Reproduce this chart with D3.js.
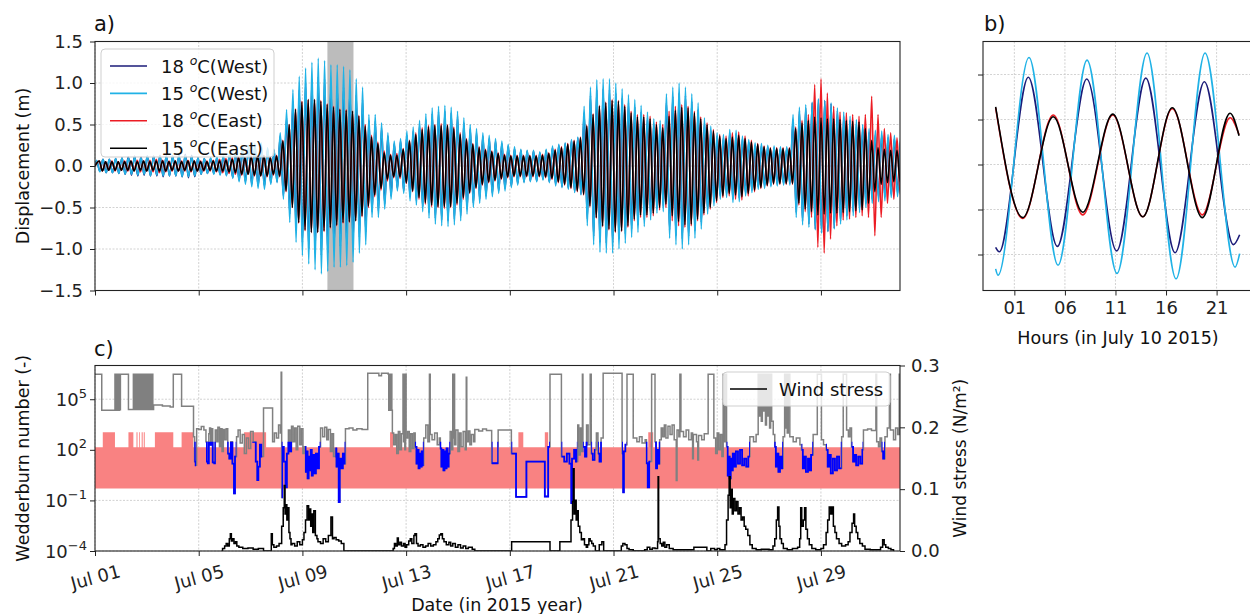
<!DOCTYPE html>
<html>
<head>
<meta charset="utf-8">
<script src="https://cdn.jsdelivr.net/npm/d3@7"></script>
<style>
  body { margin: 0; background: #fff; }
  svg { font-family: "DejaVu Sans", sans-serif; }
  .grid { stroke: #c6c6c6; stroke-width: 0.8; stroke-dasharray: 2 1.5; }
  .axis line { stroke: #222; }
  .axis text { fill: #222; font-size: 18px; font-family: "DejaVu Sans", sans-serif; }
</style>
</head>
<body>
<svg id="fig" width="1250" height="614"></svg>
<script>
// ---------------- data ----------------
// (a) isotherm displacement: amplitude of each internal-seiche cycle (m)
const cyclePeriodDays = 0.2442;     // ~5.86 h
const westPeakPhase = 0.064;        // first crest, days after Jul 01 00:00
const eastPeakPhase = 0.165;
const west18Amp = [0.06,0.08,0.08,0.09, 0.10,0.11,0.12,0.11, 0.12,0.12,0.13,0.12, 0.12,0.13,0.14,0.13,
  0.10,0.09,0.09,0.10, 0.11,0.14,0.17,0.19, 0.22,0.24,0.24,0.20, 0.19,0.36,0.58,0.78,
  0.92,1.00,1.05,1.08, 1.05,1.00,0.97,0.95, 0.93,0.86,0.80,0.55, 0.54,0.46,0.36,0.27,
  0.30,0.37,0.42,0.49, 0.56,0.63,0.65,0.66, 0.64,0.60,0.52,0.45, 0.40,0.36,0.33,0.30,
  0.27,0.24,0.21,0.19, 0.18,0.18,0.16,0.19, 0.22,0.25,0.27,0.31, 0.34,0.64,0.85,0.92,
  0.93,0.92,0.88,0.82, 0.76,0.71,0.65,0.58, 0.51,0.49,0.77,0.84, 0.88,0.85,0.78,0.68,
  0.52,0.43,0.36,0.34, 0.40,0.39,0.33,0.29, 0.25,0.24,0.23,0.22, 0.21,0.21,0.56,0.66,
  0.70,0.76,0.80,0.79, 0.75,0.67,0.60,0.55, 0.50,0.45,0.40,0.38, 0.37,0.34,0.33,0.32];
const west15Amp = [0.07,0.08,0.08,0.09, 0.10,0.10,0.11,0.10, 0.12,0.11,0.12,0.12, 0.12,0.13,0.13,0.12,
  0.10,0.09,0.10,0.11, 0.12,0.15,0.19,0.22, 0.25,0.27,0.28,0.22, 0.20,0.40,0.68,0.92,
  1.08,1.18,1.25,1.30, 1.27,1.22,1.22,1.20, 1.16,1.05,0.95,0.62, 0.62,0.52,0.40,0.30,
  0.33,0.42,0.47,0.55, 0.63,0.70,0.72,0.73, 0.71,0.66,0.58,0.50, 0.45,0.40,0.37,0.33,
  0.30,0.26,0.23,0.20, 0.19,0.19,0.17,0.20, 0.24,0.26,0.28,0.32, 0.35,0.72,0.95,1.04,
  1.05,1.05,1.00,0.93, 0.86,0.80,0.73,0.65, 0.57,0.55,0.87,0.95, 1.00,0.95,0.87,0.76,
  0.58,0.48,0.40,0.38, 0.44,0.43,0.36,0.32, 0.28,0.27,0.25,0.24, 0.23,0.23,0.62,0.71,
  0.74,0.77,0.81,0.79, 0.76,0.70,0.65,0.60, 0.56,0.50,0.45,0.43, 0.42,0.38,0.37,0.36];
const east18Amp = [0.06,0.05,0.06,0.05, 0.06,0.06,0.07,0.06, 0.07,0.08,0.07,0.06, 0.06,0.06,0.07,0.06,
  0.06,0.06,0.07,0.08, 0.09,0.10,0.11,0.10, 0.12,0.12,0.13,0.11, 0.13,0.31,0.50,0.69,
  0.78,0.80,0.80,0.79, 0.75,0.72,0.69,0.68, 0.66,0.61,0.50,0.37, 0.29,0.18,0.14,0.15,
  0.21,0.31,0.40,0.46, 0.49,0.50,0.51,0.50, 0.47,0.40,0.33,0.27, 0.23,0.20,0.18,0.16,
  0.14,0.13,0.13,0.13, 0.13,0.13,0.14,0.16, 0.20,0.23,0.27,0.31, 0.35,0.49,0.63,0.73,
  0.77,0.80,0.79,0.74, 0.66,0.62,0.62,0.60, 0.53,0.50,0.66,0.72, 0.74,0.72,0.66,0.59,
  0.52,0.44,0.38,0.36, 0.40,0.41,0.36,0.31, 0.27,0.24,0.22,0.22, 0.22,0.22,0.47,0.55,
  0.62,0.98,1.05,0.88, 0.72,0.65,0.64,0.62, 0.60,0.62,0.84,0.62, 0.45,0.40,0.34,0.30];
const east15Amp = [0.06,0.05,0.05,0.05, 0.05,0.06,0.05,0.06, 0.05,0.06,0.06,0.05, 0.06,0.05,0.06,0.06,
  0.05,0.05,0.06,0.06, 0.07,0.08,0.10,0.10, 0.11,0.12,0.12,0.10, 0.12,0.30,0.50,0.68,
  0.77,0.80,0.80,0.78, 0.74,0.71,0.68,0.67, 0.66,0.60,0.48,0.35, 0.27,0.16,0.13,0.13,
  0.20,0.30,0.38,0.44, 0.47,0.49,0.49,0.49, 0.45,0.38,0.32,0.26, 0.22,0.19,0.17,0.15,
  0.13,0.12,0.12,0.12, 0.12,0.12,0.13,0.15, 0.19,0.22,0.26,0.30, 0.34,0.48,0.62,0.72,
  0.76,0.79,0.78,0.72, 0.64,0.59,0.59,0.57, 0.50,0.46,0.60,0.67, 0.71,0.70,0.64,0.57,
  0.50,0.42,0.36,0.33, 0.35,0.37,0.33,0.29, 0.26,0.23,0.21,0.21, 0.21,0.21,0.45,0.52,
  0.55,0.59,0.58,0.57, 0.57,0.56,0.55,0.54, 0.53,0.45,0.31,0.22, 0.20,0.19,0.19,0.19];

// (b) July 10 2015: turning points [hour, displacement m]
const bWest18 = [[-0.85,-0.92],[-0.49,-0.97],[2.38,0.97],[5.25,-0.91],[8.16,0.95],[11.12,-0.96],[14.0,0.96],[16.89,-0.98],[19.79,0.92],[22.66,-0.89],[23.28,-0.78]];
const bWest15 = [[-0.85,-1.16],[-0.62,-1.23],[2.45,1.19],[5.32,-1.12],[8.19,1.16],[11.15,-1.21],[14.12,1.24],[16.99,-1.27],[19.86,1.24],[22.83,-1.14],[23.28,-0.99]];
const bEast18 = [[-0.85,0.63],[1.83,-0.60],[4.85,0.55],[7.76,-0.56],[10.73,0.55],[13.7,-0.58],[16.62,0.62],[19.59,-0.56],[22.33,0.52],[23.22,0.33]];
const bEast15 = [[-0.85,0.64],[1.83,-0.59],[4.85,0.53],[7.76,-0.53],[10.73,0.56],[13.7,-0.58],[16.62,0.63],[19.59,-0.59],[22.33,0.57],[23.22,0.32]];

// (c) Wedderburn number, [day since Jul 01, W]
const wedderburn = [[0,3e6],[0.26,2.2e4],[0.77,3e6],[0.8,2.2e4],[0.82,3e6],[0.84,2.2e4],[0.86,3e6],[0.88,2.2e4],[0.9,3e6],[0.92,2.2e4],[0.94,3e6],[0.96,2.4e4],[0.98,3e6],
  [1.29,2.5e4],[1.48,3e6],[1.51,2.5e4],[1.54,3e6],[1.57,2.5e4],[1.6,3e6],[1.63,2.5e4],[1.66,3e6],[1.69,2.5e4],[1.72,3e6],[1.75,2.5e4],[1.78,3e6],[1.81,2.5e4],[1.84,3e6],[1.87,2.5e4],[1.9,3e6],[1.93,2.5e4],[1.96,3e6],[1.99,2.5e4],[2.02,3e6],[2.05,2.5e4],[2.08,3e6],[2.11,2.5e4],[2.14,3e6],[2.17,2.5e4],[2.2,3e6],[2.23,2.5e4],
  [2.26,4.5e4],[2.6,4e4],[2.9,3.5e4],[3.02,3e6],[3.34,3.8e4],[3.8,600],[3.84,20],[3.88,12],[3.92,1.8e3],[4.0,1.6e3],[4.1,2.4e3],[4.2,1.5e3],[4.28,300],[4.31,20],[4.35,16],[4.39,900],[4.42,2e3],[4.46,200],[4.5,1.8e3],[4.54,18],[4.6,16],[4.64,1.5e3],[4.7,300],[4.74,2.2e3],[4.8,150],[4.85,1.8e3],[4.9,80],[4.95,1.6e3],
  [5.0,400],[5.06,1.8e3],[5.12,60],[5.18,30],[5.24,300],[5.3,15],[5.36,0.26],[5.4,40],[5.46,600],[5.52,1.5e3],[5.6,250],[5.68,800],[5.76,60],[5.84,500],[5.92,120],[6.0,1.2e3],[6.1,300],[6.2,20],[6.26,1.6],[6.3,10],[6.36,200],[6.42,40],[6.5,3e4],[6.85,300],[6.92,1e3],[7.0,500],[7.08,3e3],[7.15,1e3],[7.18,4e6],[7.2,0.15],[7.22,150],[7.28,20],[7.35,0.6],[7.4,60],[7.46,1.5e3],[7.52,80],[7.58,2.5e3],[7.64,300],[7.7,2e3],[7.76,100],[7.82,2.5e3],[7.9,200],[7.96,1.8e3],
  [8.02,60],[8.08,150],[8.12,5],[8.16,80],[8.2,2],[8.24,40],[8.28,6],[8.32,100],[8.36,3],[8.4,50],[8.46,4],[8.52,60],[8.58,8],[8.64,150],[8.7,2e3],[8.78,600],[8.86,2.2e3],[8.94,400],[9.0,1.6e3],[9.08,80],[9.14,900],[9.2,40],[9.27,120],[9.31,10],[9.35,60],[9.4,0.08],[9.44,30],[9.5,8],[9.56,60],[9.62,15],[9.66,1.8e3],[9.8,2e3],[9.95,1.5e3],[10.1,1.8e3],[10.3,1.6e3],[10.52,3.5e6],[10.95,2.5e6],[11.05,3.5e6],
  [11.31,3e6],[11.33,2.2e4],[11.35,3e6],[11.37,2.2e4],[11.39,3e6],[11.41,2.2e4],[11.43,3e6],[11.45,2.2e4],[11.47,1e3],[11.52,200],[11.58,800],[11.64,60],[11.7,1.2e3],[11.76,100],[11.82,900],[11.88,3e6],[11.9,300],[11.93,3e6],[11.95,100],[11.98,3e6],[12.0,500],[12.06,1.2e3],[12.12,80],[12.18,900],[12.24,120],[12.3,1e3],[12.35,150],[12.4,15],[12.44,100],[12.48,8],[12.52,60],[12.56,10],[12.6,80],[12.64,12],[12.68,500],[12.76,3e3],[12.84,300],[12.9,3e6],[12.93,800],
  [13.0,400],[13.1,1e3],[13.2,200],[13.28,500],[13.32,120],[13.36,10],[13.4,100],[13.44,6],[13.48,80],[13.52,8],[13.56,120],[13.6,10],[13.64,60],[13.7,1.2e3],[13.76,100],[13.8,3e6],[13.82,500],[13.85,3e6],[13.87,200],[13.92,1.5e3],[14.0,80],[14.06,1e3],[14.12,150],[14.2,1.2e3],[14.28,100],[14.32,2e6],[14.34,300],[14.4,1.3e3],[14.46,200],[14.52,800],[14.6,300],[14.65,1.6e3],[14.8,1.3e3],[14.95,1.7e3],[15.1,1.4e3],[15.3,16],[15.55,1.5e3],
  [16.06,60],[16.24,0.16],[16.64,20],[17.35,0.17],[17.48,150],[17.55,3e6],[17.99,40],[18.1,20],[18.2,60],[18.3,15],[18.37,0.07],[18.4,30],[18.48,100],[18.55,20],[18.62,3e3],[18.66,50],[18.72,2e3],[18.76,80],[18.8,3e6],[18.82,150],[18.9,40],[18.96,3e3],[19.02,200],[19.1,3e6],[19.14,60],[19.2,25],[19.28,100],[19.34,1e3],[19.4,60],[19.46,20],[19.52,500],[19.6,3.5e6],
  [20.33,60],[20.37,0.3],[20.4,80],[20.46,200],[20.52,3e6],[20.76,500],[20.9,300],[21.0,600],[21.1,250],[21.22,400],[21.27,16],[21.32,0.6],[21.38,20],[21.47,3e6],[21.6,300],[21.64,8],[21.68,100],[21.72,15],[21.78,400],[21.84,2e3],[21.9,600],[21.96,3e3],[22.02,500],[22.1,2.5e3],[22.18,800],[22.26,3e3],[22.34,400],[22.42,1.5],[22.45,1.5e3],[22.52,600],[22.56,3e6],[22.6,1.2e3],[22.7,600],[22.8,1.5e3],[22.9,400],
  [23.0,1e3],[23.05,30],[23.08,800],[23.2,300],[23.25,25],[23.28,700],[23.4,400],[23.5,900],[23.65,3e6],[23.87,500],[23.94,60],[24.0,1e3],[24.06,100],[24.12,800],[24.18,40],[24.23,3e6],[24.27,300],[24.3,3e6],[24.36,150],[24.4,3],[24.44,40],[24.48,2],[24.52,30],[24.56,6],[24.6,60],[24.66,10],[24.72,80],[24.8,15],[24.88,100],[24.96,12],
  [25.04,30],[25.12,10],[25.2,40],[25.26,600],[25.4,300],[25.5,800],[25.58,3e6],[25.62,1e4],[25.66,3e6],[25.7,5e3],[25.74,3e6],[25.78,2e4],[25.82,3e6],[25.86,3e3],[25.9,3e6],[25.94,1e4],[25.98,3e6],[26.02,2e3],[26.06,3e6],[26.1,5e3],[26.16,800],[26.22,150],[26.26,10],[26.3,60],[26.36,5],[26.42,40],[26.48,8],[26.54,600],[26.6,3e6],[26.63,2e3],[26.66,3e6],[26.7,1e3],[26.74,3e6],[26.8,600],[26.93,300],
  [27.05,500],[27.19,200],[27.25,100],[27.3,8],[27.36,40],[27.42,5],[27.5,30],[27.56,6],[27.62,50],[27.7,800],[27.86,3e6],[28.02,400],[28.1,200],[28.2,100],[28.26,10],[28.32,50],[28.38,4],[28.46,30],[28.54,6],[28.62,40],[28.7,8],[28.8,600],[28.86,3e6],[28.99,1.5e3],
  [29.06,600],[29.12,2e3],[29.18,150],[29.24,20],[29.3,50],[29.36,12],[29.44,40],[29.52,15],[29.6,100],[29.64,1.5e3],[29.8,1.7e3],[29.95,1.4e3],[30.12,3e6],[30.15,300],[30.22,150],[30.28,500],[30.34,80],[30.4,30],[30.47,600],[30.56,2e3],[30.64,3e6],[30.68,1.5e3],[30.8,400],[30.88,2e3],[30.96,800],[31.02,3e6],[31.05,3e6]];

// periods in which the Wedderburn number is flagged (days since Jul 01)
const flaggedSpans = [[3.83,3.9],[4.28,4.66],[5.1,5.45],[6.05,6.45],[7.2,7.6],[8.1,8.7],[9.27,9.66],[12.34,12.68],[13.3,13.7],
  [15.3,15.56],[16.06,17.55],[17.99,18.6],[18.82,19.0],[19.14,19.3],[19.4,19.55],[20.33,20.5],[21.25,21.42],[21.6,21.8],
  [24.36,25.26],[26.2,26.54],[27.25,27.7],[28.2,28.8],[29.18,29.63],[30.34,30.47]];
const flagCeiling = 300;

// band of the critical Wedderburn range
const bandLower = 0.5, bandUpper = 140, bandSpikeTop = 1100;
const bandSpikes = [[0.3,0.77],[1.29,1.48],[1.6,1.64],[1.7,1.73],[1.8,1.84],[1.88,1.92],[2.31,3.02],[3.34,3.79],[5.75,6.6],
  [11.38,11.5],[16.33,16.52],[17.35,17.48],[21.34,21.53]];

// wind stress, [day since Jul 01, N/m2]
const windStress = [[4.88,0],[4.92,0.004],[5.0,0.008],[5.06,0.012],[5.12,0.008],[5.18,0.02],[5.22,0.028],[5.26,0.016],[5.3,0.02],[5.36,0.012],[5.42,0.015],[5.47,0.008],[5.55,0.006],[5.7,0.004],[5.9,0.005],[6.1,0.003],[6.3,0.004],[6.5,0],
  [6.8,0.028],[6.84,0.01],[6.9,0.006],[7.0,0.008],[7.1,0.012],[7.2,0.04],[7.26,0.07],[7.3,0.106],[7.33,0.06],[7.36,0.075],[7.4,0.05],[7.44,0.07],[7.48,0.03],[7.52,0.02],[7.56,0.01],[7.6,0.012],[7.7,0.008],[7.8,0.015],[7.9,0.01],
  [8.0,0.018],[8.06,0.03],[8.12,0.05],[8.18,0.073],[8.24,0.05],[8.28,0.068],[8.32,0.04],[8.36,0.06],[8.4,0.03],[8.44,0.065],[8.5,0.025],[8.56,0.02],[8.6,0.015],[8.7,0.012],[8.8,0.02],[8.9,0.015],[9.0,0.025],[9.1,0.055],[9.16,0.02],[9.22,0.022],[9.3,0.018],[9.4,0.016],[9.5,0.012],[9.6,0],
  [11.5,0.004],[11.55,0.012],[11.6,0.008],[11.66,0.021],[11.7,0.01],[11.76,0.014],[11.82,0.008],[11.9,0.012],[11.96,0.006],[12.02,0.01],[12.1,0.016],[12.16,0.02],[12.22,0.012],[12.3,0.025],[12.34,0.028],[12.4,0.012],[12.46,0.008],[12.55,0.01],[12.65,0.006],[12.75,0.008],[12.85,0.012],[12.95,0.008],
  [13.05,0.01],[13.15,0.015],[13.22,0.02],[13.28,0.026],[13.34,0.028],[13.4,0.02],[13.46,0.015],[13.55,0.01],[13.65,0.014],[13.72,0.008],[13.8,0.012],[13.9,0.006],[14.0,0.01],[14.1,0.005],[14.2,0.008],[14.3,0.004],[14.4,0.006],[14.55,0.003],[14.65,0],
  [16.07,0.015],[17.55,0],[17.93,0.015],[18.3,0.015],[18.36,0.05],[18.42,0.08],[18.45,0.133],[18.48,0.06],[18.52,0.082],[18.56,0.05],[18.6,0.065],[18.64,0.04],[18.7,0.03],[18.76,0.018],[18.82,0.02],[18.88,0.01],[18.95,0.006],[19.0,0.01],[19.05,0.02],[19.1,0.016],[19.16,0.012],[19.22,0.008],[19.3,0],[19.45,0.01],[19.55,0.015],[19.62,0],
  [20.3,0.008],[20.36,0.012],[20.44,0.01],[20.52,0.004],[20.6,0.002],[20.76,0],[21.2,0.002],[21.3,0.006],[21.4,0.003],[21.5,0.005],[21.6,0.004],[21.7,0.015],[21.72,0.12],[21.74,0.02],[21.8,0.012],[21.86,0.008],[21.92,0.014],[21.98,0.006],[22.05,0.01],[22.15,0.004],[22.3,0.002],[22.6,0.002],[23.1,0.006],[23.6,0],[23.75,0.004],[23.9,0.002],
  [24.0,0.004],[24.1,0.002],[24.3,0.01],[24.36,0.05],[24.42,0.09],[24.46,0.12],[24.5,0.07],[24.54,0.1],[24.58,0.06],[24.62,0.085],[24.68,0.065],[24.74,0.08],[24.8,0.06],[24.86,0.07],[24.92,0.05],[24.98,0.055],[25.04,0.04],[25.1,0.035],[25.18,0.025],[25.26,0.01],[25.35,0.004],[25.5,0.002],[25.7,0.003],
  [26.0,0.002],[26.15,0.008],[26.22,0.02],[26.28,0.05],[26.33,0.071],[26.38,0.04],[26.42,0.02],[26.48,0.012],[26.55,0.004],[26.7,0.002],[26.9,0.004],[27.1,0.006],[27.18,0.02],[27.22,0.07],[27.26,0.04],[27.32,0.05],[27.37,0.07],[27.42,0.035],[27.48,0.02],[27.55,0.01],[27.65,0.004],[27.8,0.002],
  [28.0,0.004],[28.1,0.01],[28.2,0.03],[28.26,0.05],[28.32,0.071],[28.38,0.06],[28.43,0.071],[28.48,0.04],[28.54,0.03],[28.6,0.02],[28.7,0.012],[28.8,0.008],[28.95,0.01],[29.05,0.015],[29.12,0.03],[29.2,0.045],[29.26,0.06],[29.3,0.04],[29.36,0.03],[29.42,0.02],[29.5,0.012],[29.6,0.008],[29.7,0.003],[29.9,0.002],
  [30.1,0.002],[30.3,0.006],[30.38,0.018],[30.44,0.01],[30.5,0.006],[30.6,0.004],[30.7,0.002],[30.8,0]];

// ticks and labels
const dateTicks = ["2015-07-01","2015-07-05","2015-07-09","2015-07-13","2015-07-17","2015-07-21","2015-07-25","2015-07-29"];
const dispTicks = [-1.5,-1.0,-0.5,0,0.5,1.0,1.5];
const hourTicks = [1,6,11,16,21];
const bDispTicks = [-1,-0.5,0,0.5,1];
const wedTicks = [1e-4,1e-1,1e2,1e5];
const windTicks = [0,0.1,0.2,0.3];
const seriesTemp = [18,15,18,15];
const seriesSide = ["West","West","East","East"];
const seriesColor = ["#1b1b78","#20b2e6","#ec1c24","#000000"];

// ---------------- drawing ----------------
const DAY = 864e5;
const jul1 = new Date(2015, 6, 1);
const dt = d => new Date(jul1.getTime() + d * DAY);
const parseDay = d3.timeParse("%Y-%m-%d");
const xEnd = 31.05;

const svg = d3.select("#fig");
const defs = svg.append("defs");
function clipRect(id, x, y, w, h) {
  defs.append("clipPath").attr("id", id).append("rect").attr("x", x).attr("y", y).attr("width", w).attr("height", h);
}

// panel geometry
const A = {l: 95, r: 900, t: 41.5, b: 290.5};
const B = {l: 983, r: 1252, t: 41.5, b: 290.5};
const C = {l: 95, r: 900, t: 365.5, b: 551};

const xA = d3.scaleTime().domain([dt(0), dt(xEnd)]).range([A.l, A.r]);
const yA = d3.scaleLinear().domain([-1.5, 1.5]).range([A.b, A.t]);
const xB = d3.scaleLinear().domain([-2.1, 24.5]).range([B.l, B.r]);
const yB = d3.scaleLinear().domain([-1.4, 1.367]).range([B.b, B.t]);
const xC = d3.scaleTime().domain([dt(0), dt(xEnd)]).range([C.l, C.r]);
const yC = d3.scaleLog().domain([1e-4, 1e7]).range([C.b, C.t]);
const yW = d3.scaleLinear().domain([0, 0.3]).range([C.b, C.t]);

clipRect("clipA", A.l, A.t, A.r - A.l, A.b - A.t);
clipRect("clipB", B.l, B.t, B.r - B.l, B.b - B.t);
clipRect("clipC", C.l, C.t, C.r - C.l, C.b - C.t);

const dates = dateTicks.map(parseDay);

function vgrid(g, x, vals, y0, y1) {
  g.selectAll(null).data(vals).join("line").attr("class", "grid")
    .attr("x1", d => x(d)).attr("x2", d => x(d)).attr("y1", y0).attr("y2", y1);
}
function hgrid(g, y, vals, x0, x1) {
  g.selectAll(null).data(vals).join("line").attr("class", "grid")
    .attr("y1", d => y(d)).attr("y2", d => y(d)).attr("x1", x0).attr("x2", x1);
}
function frame(P) {
  svg.append("rect").attr("x", P.l).attr("y", P.t).attr("width", P.r - P.l).attr("height", P.b - P.t)
    .attr("fill", "none").attr("stroke", "#222").attr("stroke-width", 1.1);
}
function styleAxis(g) {
  g.attr("class", "axis");
  g.select(".domain").remove();
}

// ---------- (a) ----------
const gA = svg.append("g");
vgrid(gA, xA, dates, A.t, A.b);
hgrid(gA, yA, dispTicks, A.l, A.r);

// highlighted day shown in (b)
const hlStart = 9 + d3.min(bWest15, d => d[0]) / 24;
const hlEnd = 9 + d3.max(bWest15, d => d[0]) / 24;
gA.append("rect").attr("x", xA(dt(hlStart))).attr("y", A.t)
  .attr("width", xA(dt(hlEnd)) - xA(dt(hlStart))).attr("height", A.b - A.t)
  .attr("fill", "#bcbcbc");

function cyclePoints(amps, phase) {
  const pts = [[0, 0]];
  amps.forEach((a, k) => {
    pts.push([phase + k * cyclePeriodDays, a]);
    pts.push([phase + (k + 0.5) * cyclePeriodDays, -a]);
  });
  return pts;
}
const aSeries = [
  cyclePoints(west18Amp, westPeakPhase),
  cyclePoints(west15Amp, westPeakPhase),
  cyclePoints(east18Amp, eastPeakPhase),
  cyclePoints(east15Amp, eastPeakPhase)
];
const lineA = d3.line().x(d => xA(dt(d[0]))).y(d => yA(d[1])).curve(d3.curveMonotoneX);
const gAL = gA.append("g").attr("clip-path", "url(#clipA)");
aSeries.forEach((s, i) => {
  gAL.append("path").attr("d", lineA(s)).attr("fill", "none")
    .attr("stroke", seriesColor[i]).attr("stroke-width", 1.6).attr("stroke-linejoin", "round");
});

svg.append("g").attr("transform", `translate(${A.l},0)`)
  .call(d3.axisLeft(yA).tickValues(dispTicks).tickSize(5).tickPadding(7).tickFormat(d3.format(".1f")))
  .call(styleAxis);
svg.append("g").attr("transform", `translate(0,${A.b})`)
  .call(d3.axisBottom(xA).tickValues(dates).tickSize(5).tickFormat(""))
  .call(styleAxis);
frame(A);

// legend (a)
const legA = svg.append("g");
legA.append("rect").attr("x", 101).attr("y", 49).attr("width", 173).attr("height", 108).attr("rx", 4)
  .attr("fill", "#fff").attr("fill-opacity", 0.8).attr("stroke", "#cfcfcf");
seriesTemp.forEach((t, i) => {
  const yy = 66 + i * 27.4;
  legA.append("line").attr("x1", 110).attr("x2", 147).attr("y1", yy).attr("y2", yy)
    .attr("stroke", seriesColor[i]).attr("stroke-width", 1.6);
  const tx = legA.append("text").attr("x", 161).attr("y", yy + 6.5).attr("font-size", 18).attr("fill", "#111");
  tx.append("tspan").text(t + " ");
  tx.append("tspan").attr("font-style", "italic").attr("font-size", 12.5).attr("dy", -8).text("o");
  tx.append("tspan").attr("dy", 8).text(`C(${seriesSide[i]})`);
});

svg.append("text").attr("x", A.l - 1).attr("y", 31).attr("font-size", 21).attr("fill", "#111").text("a)");
svg.append("text").attr("transform", `translate(29,${(A.t + A.b) / 2}) rotate(-90)`)
  .attr("text-anchor", "middle").attr("font-size", 17.5).attr("fill", "#111").text("Displacement (m)");

// ---------- (b) ----------
const gB = svg.append("g");
vgrid(gB, xB, hourTicks, B.t, B.b);
hgrid(gB, yB, bDispTicks, B.l, B.r);
const lineB = d3.line().x(d => xB(d[0])).y(d => yB(d[1])).curve(d3.curveMonotoneX);
const gBL = gB.append("g").attr("clip-path", "url(#clipB)");
[bWest18, bWest15, bEast18, bEast15].forEach((s, i) => {
  gBL.append("path").attr("d", lineB(s)).attr("fill", "none")
    .attr("stroke", seriesColor[i]).attr("stroke-width", 1.6);
});
svg.append("g").attr("transform", `translate(${B.l},0)`)
  .call(d3.axisLeft(yB).tickValues(bDispTicks).tickSize(5).tickFormat(""))
  .call(styleAxis);
svg.append("g").attr("transform", `translate(0,${B.b})`)
  .call(d3.axisBottom(xB).tickValues(hourTicks).tickSize(5).tickPadding(6).tickFormat(d3.format("02d")))
  .call(styleAxis);
frame(B);
svg.append("text").attr("x", B.l + 1).attr("y", 31).attr("font-size", 21).attr("fill", "#111").text("b)");
svg.append("text").attr("x", 1118).attr("y", 344).attr("text-anchor", "middle").attr("font-size", 17.5)
  .attr("fill", "#111").text("Hours (in July 10 2015)");

// ---------- (c) ----------
const gC = svg.append("g");
vgrid(gC, xC, dates, C.t, C.b);
hgrid(gC, yC, wedTicks, C.l, C.r);
const gCL = gC.append("g").attr("clip-path", "url(#clipC)");

// critical band
const bandPts = [[0, bandUpper]];
bandSpikes.forEach(([s, e]) => { bandPts.push([s, bandSpikeTop]); bandPts.push([e, bandUpper]); });
bandPts.push([xEnd, bandUpper]);
gCL.append("path")
  .attr("d", d3.area().x(d => xC(dt(d[0]))).y0(yC(bandLower)).y1(d => yC(d[1])).curve(d3.curveStepAfter)(bandPts))
  .attr("fill", "#f98282");

// Wedderburn number
const lineW = d3.line().x(d => xC(dt(d[0]))).y(d => yC(d[1])).curve(d3.curveStepAfter);
gCL.append("path").attr("d", lineW(wedderburn)).attr("fill", "none")
  .attr("stroke", "#808080").attr("stroke-width", 1.5);

// flagged portions in blue
const flagClip = defs.append("clipPath").attr("id", "clipFlag");
flaggedSpans.forEach(([s, e]) => {
  flagClip.append("rect").attr("x", xC(dt(s))).attr("width", xC(dt(e)) - xC(dt(s)))
    .attr("y", yC(flagCeiling)).attr("height", C.b - yC(flagCeiling));
});
gCL.append("g").attr("clip-path", "url(#clipFlag)")
  .append("path").attr("d", lineW(wedderburn)).attr("fill", "none")
  .attr("stroke", "#0000ff").attr("stroke-width", 1.8);

// wind stress on the right axis
const lineWind = d3.line().x(d => xC(dt(d[0]))).y(d => yW(d[1])).curve(d3.curveStepAfter);
gCL.append("path").attr("d", lineWind(windStress)).attr("fill", "none")
  .attr("stroke", "#000").attr("stroke-width", 1.5);

// axes
const axL = svg.append("g").attr("transform", `translate(${C.l},0)`)
  .call(d3.axisLeft(yC).tickValues(wedTicks).tickSize(5).tickFormat(""))
  .call(styleAxis);
const supFmt = d3.format("d");
wedTicks.forEach(v => {
  const t = axL.append("text").attr("x", -8).attr("y", yC(v) + 6.5).attr("text-anchor", "end")
    .attr("font-size", 18).attr("fill", "#222");
  t.append("tspan").text("10");
  t.append("tspan").attr("dy", -8).attr("font-size", 13).text(supFmt(Math.round(Math.log10(v))));
});
svg.append("g").attr("transform", `translate(${C.r},0)`)
  .call(d3.axisRight(yW).tickValues(windTicks).tickSize(5).tickPadding(6).tickFormat(d3.format(".1f")))
  .call(styleAxis);
const axB = svg.append("g").attr("transform", `translate(0,${C.b})`)
  .call(d3.axisBottom(xC).tickValues(dates).tickSize(5).tickFormat(d3.timeFormat("%b %d")))
  .call(styleAxis);
axB.selectAll(".tick text").attr("y", 0).attr("dy", 0)
  .attr("transform", "translate(0,26) rotate(-15)")
  .attr("text-anchor", "middle").attr("dominant-baseline", "central");
frame(C);

// legend (c)
const legC = svg.append("g");
legC.append("rect").attr("x", 723).attr("y", 372).attr("width", 167).attr("height", 34).attr("rx", 4)
  .attr("fill", "#fff").attr("fill-opacity", 0.8).attr("stroke", "#cfcfcf");
legC.append("line").attr("x1", 730).attr("x2", 767).attr("y1", 389).attr("y2", 389)
  .attr("stroke", "#000").attr("stroke-width", 1.5);
legC.append("text").attr("x", 779).attr("y", 395.5).attr("font-size", 18).attr("fill", "#111").text("Wind stress");

svg.append("text").attr("x", C.l - 1).attr("y", 356).attr("font-size", 21).attr("fill", "#111").text("c)");
svg.append("text").attr("transform", `translate(29,${(C.t + C.b) / 2}) rotate(-90)`)
  .attr("text-anchor", "middle").attr("font-size", 17.5).attr("fill", "#111").text("Wedderburn number (-)");
svg.append("text").attr("transform", `translate(966,${(C.t + C.b) / 2}) rotate(-90)`)
  .attr("text-anchor", "middle").attr("font-size", 17).attr("fill", "#111").text("Wind stress (N/m²)");
svg.append("text").attr("x", 497).attr("y", 611).attr("text-anchor", "middle").attr("font-size", 17.5)
  .attr("fill", "#111").text("Date (in 2015 year)");
</script>
</body>
</html>
